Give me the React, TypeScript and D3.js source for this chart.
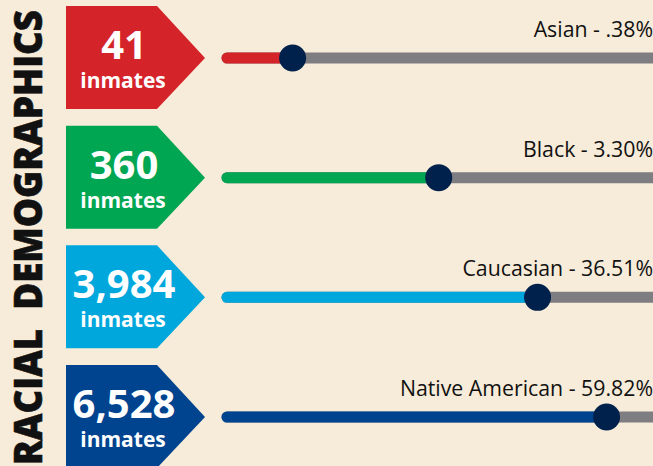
import React from "react";
import * as d3 from "d3";

// ---- data ----
const races = ["Asian", "Black", "Caucasian", "Native American"];
const inmates = [41, 360, 3984, 6528];
const percentLabels = [".38%", "3.30%", "36.51%", "59.82%"];
// where the marker sits along the track (share of track length), as drawn
const markerShare = [0.154, 0.497, 0.729, 0.891];
const colors = ["#d5232a", "#00a651", "#00a7dd", "#00438f"];
const title = "RACIAL DEMOGRAPHICS";

const W = 653;
const H = 466;
const BG = "#f7ecd9";
const TRACK = "#7e7d82";
const KNOB = "#00214b";

export default function App() {
  const y = d3.scalePoint<string>().domain(races).range([58, 417]);
  const x = d3.scaleLinear().domain([0, 1]).range([227, 653]);
  const fmt = d3.format(",");

  const badge = (cy: number) => {
    const p = d3.path();
    p.moveTo(66, cy - 52);
    p.lineTo(157, cy - 52);
    p.lineTo(205, cy);
    p.lineTo(157, cy + 51);
    p.lineTo(66, cy + 51);
    p.closePath();
    return p.toString();
  };

  return (
    <div style={{ position: "fixed", left: 0, top: 0, width: W, height: H }}>
      <svg width={W} height={H} style={{ display: "block" }}>
        <rect x={0} y={0} width={W} height={H} fill={BG} />
        <text
          transform={`translate(42,465) rotate(-90)`}
          fontFamily="'Open Sans', sans-serif"
          fontWeight={800}
          fontSize={39}
          wordSpacing={10}
          textLength={455}
          lengthAdjust="spacingAndGlyphs"
          fill="#111"
          stroke="#111"
          strokeWidth={0.6}
        >
          {title}
        </text>
        {races.map((r, i) => {
          const cy = y(r) as number;
          const kx = x(markerShare[i]);
          return (
            <g key={r}>
              <path d={badge(cy)} fill={colors[i]} />
              <text
                x={124}
                y={cy + 1}
                textAnchor="middle"
                fontFamily="'Open Sans', sans-serif"
                fontWeight={700}
                fontSize={40}
                fill="#fff"
              >
                {fmt(inmates[i])}
              </text>
              <text
                x={123}
                y={cy + 30}
                textAnchor="middle"
                fontFamily="'Open Sans', sans-serif"
                fontWeight={700}
                fontSize={21}
                fill="#fff"
              >
                inmates
              </text>
              <line
                x1={x(0)}
                x2={x(1) + 40}
                y1={cy}
                y2={cy}
                stroke={TRACK}
                strokeWidth={11}
                strokeLinecap="round"
              />
              <line
                x1={x(0)}
                x2={kx}
                y1={cy}
                y2={cy}
                stroke={colors[i]}
                strokeWidth={11}
                strokeLinecap="round"
              />
              <circle cx={kx} cy={cy} r={13.5} fill={KNOB} />
              <text
                x={653}
                y={cy - 21}
                textAnchor="end"
                fontFamily="'Open Sans', sans-serif"
                fontSize={21.3}
                fill="#111"
              >
                {`${r} - ${percentLabels[i]}`}
              </text>
            </g>
          );
        })}
      </svg>
    </div>
  );
}
